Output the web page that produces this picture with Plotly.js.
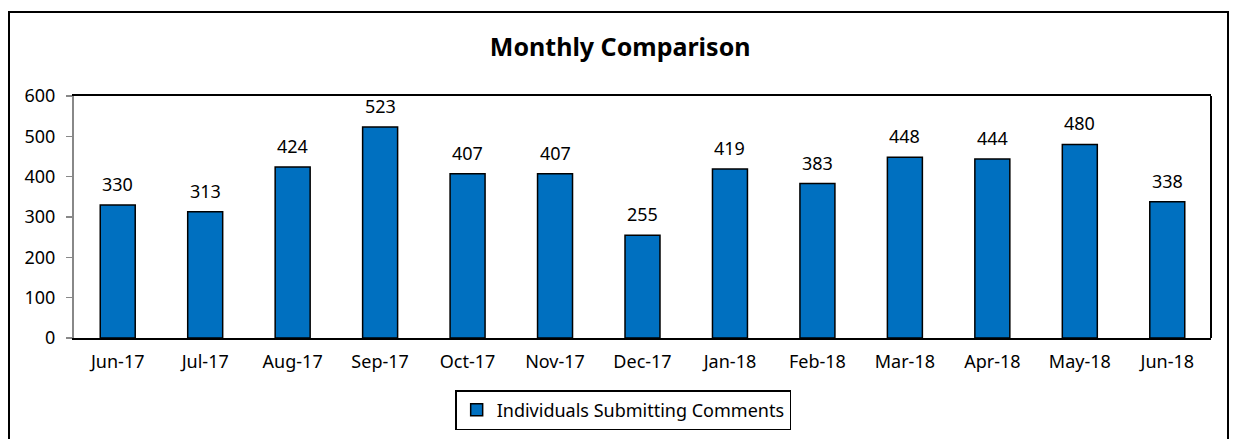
<!DOCTYPE html>
<html>
<head>
<meta charset="utf-8">
<script src="https://cdn.plot.ly/plotly-3.0.1.min.js"></script>
<style>
html,body{margin:0;padding:0;background:#fff;}
#wrap{position:relative;width:1233px;height:439px;}
#chart{width:1233px;height:439px;}
#frame{position:absolute;left:8px;top:11px;width:1221px;height:440px;border:2px solid #000;box-sizing:border-box;pointer-events:none;}
</style>
</head>
<body>
<div id="wrap"><div id="chart"></div><div id="frame"></div></div>
<script>
const months = ["Jun-17","Jul-17","Aug-17","Sep-17","Oct-17","Nov-17","Dec-17","Jan-18","Feb-18","Mar-18","Apr-18","May-18","Jun-18"];
const comments = [330,313,424,523,407,407,255,419,383,448,444,480,338];
const seriesName = "Individuals Submitting Comments";
const yTicks = [0,100,200,300,400,500,600];

const FONT = "Noto Sans, DejaVu Sans, sans-serif";

const labels = months.map((m, i) => ({
  x: m, y: comments[i], xref: "x", yref: "y", text: String(comments[i]),
  showarrow: false, yanchor: "bottom", yshift: 7,
  font: {family: FONT, size: 18, color: "#000"}
}));

Plotly.newPlot("chart", [{
  type: "bar",
  x: months,
  y: comments,
  name: seriesName,
  marker: {color: "#0070C0", line: {color: "#000", width: 1.5}},
  hoverinfo: "x+y"
}], {
  width: 1233, height: 439,
  margin: {l: 74, r: 22, t: 96, b: 101, autoexpand: false},
  paper_bgcolor: "#fff", plot_bgcolor: "#fff",
  font: {family: FONT, size: 18, color: "#000"},
  title: {text: "<b>Monthly Comparison</b>", x: 0.503, xanchor: "center", y: 0.893, yanchor: "middle",
          font: {family: FONT, size: 25, color: "#000"}},
  bargap: 0.6,
  showlegend: true,
  legend: {orientation: "h", x: 0.483, xanchor: "center", y: -0.215, yanchor: "top",
           bordercolor: "#000", borderwidth: 1.5, bgcolor: "#fff", itemwidth: 30,
           font: {family: FONT, size: 18, color: "#000"}},
  annotations: labels,
  xaxis: {type: "category", showline: true, linecolor: "#000", linewidth: 2, mirror: true,
          ticks: "", showgrid: false, tickfont: {family: FONT, size: 18}, ticklen: 0,
          ticklabelstandoff: 6, automargin: false},
  yaxis: {range: [0, 600], tickvals: yTicks, showline: true, linecolor: "#888", linewidth: 2,
          ticks: "outside", ticklen: 6, tickcolor: "#888", tickwidth: 1.5, showgrid: false,
          zeroline: false, tickfont: {family: FONT, size: 18}, ticklabelstandoff: 7, automargin: false},
  shapes: [{type: "line", xref: "paper", yref: "paper", x0: 1, x1: 1, y0: 0, y1: 1,
            line: {color: "#000", width: 2}}]
}, {displayModeBar: false, staticPlot: true});
</script>
</body>
</html>
